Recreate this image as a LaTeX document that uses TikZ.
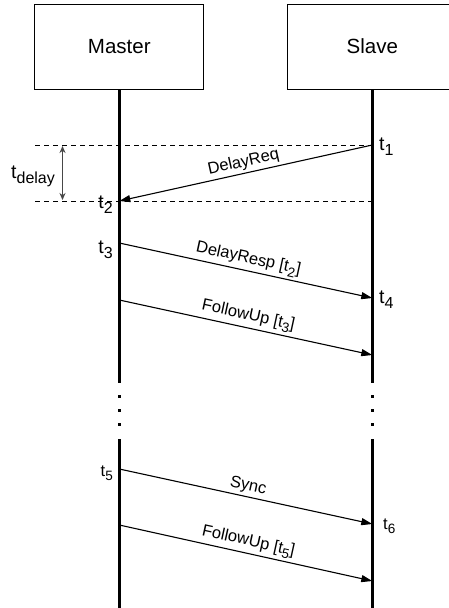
\documentclass[tikz,border=0pt]{standalone}
\usepackage{fontspec}
\setmainfont{Liberation Sans}
\usetikzlibrary{arrows.meta}
% lowered, slightly reduced index
\newcommand\lsub[1]{\raisebox{-0.28em}{\scalebox{0.82}{#1}}}
\begin{document}
\begin{tikzpicture}[x=1pt,y=-1pt,
  party/.style={draw,line width=0.8pt,minimum width=169pt,minimum height=85pt,inner sep=0pt,font=\fontsize{20.5}{22}\selectfont},
  lifeline/.style={line width=2.8pt},
  msg/.style={line width=1.1pt,-{Triangle[length=11pt,width=7pt]}},
  msglabel/.style={midway,above,sloped,inner sep=2.5pt,font=\fontsize{16.5}{18}\selectfont},
  tick/.style={font=\fontsize{19.5}{21}\selectfont,inner sep=0pt},
  smalltick/.style={font=\fontsize{16.5}{18}\selectfont,inner sep=0pt},
  guide/.style={line width=0.8pt,dash pattern=on 5pt off 4pt},
  span/.style={line width=1.6pt,draw=black!72,{Stealth[length=7pt,width=6pt]}-{Stealth[length=7pt,width=6pt]}},
  dotmark/.style={fill,minimum width=3pt,minimum height=3pt,inner sep=0pt}]
\clip (0,0) rectangle (449,608);
\useasboundingbox (0,0) rectangle (449,608);

% participants
\node[party] (master) at (119.3,46.5) {Master};
\node[party] (slave) at (372.3,46.5) {Slave};

% lifeline break points
\coordinate (mA) at (119.3,383);
\coordinate (mB) at (119.3,439);
\coordinate (mE) at (119.3,610);
\coordinate (sA) at (372.3,383);
\coordinate (sB) at (372.3,439);
\coordinate (sE) at (372.3,610);

\draw[lifeline] (master.south) -- (mA);
\draw[lifeline] (mB) -- (mE);
\draw[lifeline] (slave.south) -- (sA);
\draw[lifeline] (sB) -- (sE);

% continuation dots
\foreach \yy/\nm in {396/1,410/2,424/3}{
  \node[dotmark] (md\nm) at (119.3,\yy) {};
  \node[dotmark] (sd\nm) at (372.3,\yy) {};
}

% message end points on the lifelines
\coordinate (m1) at (119.3,201);
\coordinate (m2) at (119.3,243);
\coordinate (m3) at (119.3,300);
\coordinate (m4) at (119.3,469);
\coordinate (m5) at (119.3,525);
\coordinate (s1) at (372.3,145);
\coordinate (s2) at (372.3,298);
\coordinate (s3) at (372.3,355);
\coordinate (s4) at (372.3,524);
\coordinate (s5) at (372.3,581);

% delay measurement guides
\coordinate (g1) at (35,145);
\coordinate (g2) at (35,201);
\draw[guide] (g1) -- (s1);
\draw[guide] (g2) -- (m1 -| s1);
\coordinate (d1) at (62.5,146);
\coordinate (d2) at (62.5,200);
\draw[span] (d1) -- (d2);
\node[tick,anchor=base west] (tdelay) at (11,178) {t\lsub{delay}};

% messages
\draw[msg] (s1) -- (m1) node[msglabel] {DelayReq};
\draw[msg] (m2) -- (s2) node[msglabel] {DelayResp [t\lsub{2}]};
\draw[msg] (m3) -- (s3) node[msglabel] {FollowUp [t\lsub{3}]};
\draw[msg] (m4) -- (s4) node[msglabel] {Sync};
\draw[msg] (m5) -- (s5) node[msglabel] {FollowUp [t\lsub{5}]};

% timestamps
\node[tick,anchor=base west] (t1) at (379,150) {t\lsub{1}};
\node[tick,anchor=base east] (t2) at (113,208) {t\lsub{2}};
\node[tick,anchor=base east] (t3) at (113,253) {t\lsub{3}};
\node[tick,anchor=base west] (t4) at (379,303) {t\lsub{4}};
\node[smalltick,anchor=base east] (t5) at (113,476) {t\lsub{5}};
\node[smalltick,anchor=base west] (t6) at (383,529) {t\lsub{6}};
\end{tikzpicture}
\end{document}
